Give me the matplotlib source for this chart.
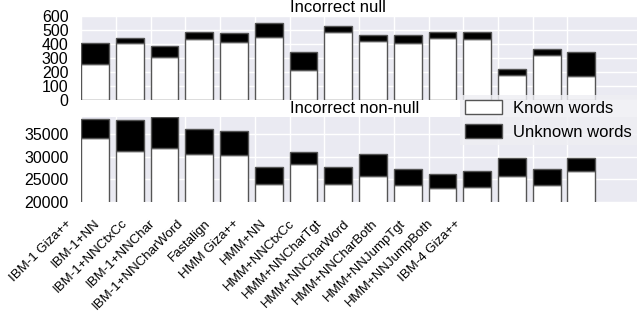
import matplotlib
matplotlib.use("Agg")
import matplotlib.pyplot as plt
import matplotlib.transforms as mtransforms
import numpy as np

plt.rcParams['font.family'] = ['Liberation Sans', 'DejaVu Sans']

models = ['IBM-1 Giza++', 'IBM-1+NN', 'IBM-1+NNCtxCc', 'IBM-1+NNChar',
          'IBM-1+NNCharWord', 'Fastalign', 'HMM Giza++', 'HMM+NN',
          'HMM+NNCtxCc', 'HMM+NNCharTgt', 'HMM+NNCharWord', 'HMM+NNCharBoth',
          'HMM+NNJumpTgt', 'HMM+NNJumpBoth', 'IBM-4 Giza++']

# incorrect null: known / total (known + unknown)
null_known = [255, 405, 310, 434, 417, 448, 214, 483, 424, 405, 440, 433, 181, 324, 171]
null_total = [405, 440, 386, 486, 476, 552, 345, 531, 467, 467, 486, 488, 219, 367, 340]

# incorrect non-null
nonnull_known = [34260, 31260, 31930, 30680, 30370, 23960, 28440, 23960,
                 25820, 23740, 23070, 23430, 25820, 23810, 26940]
nonnull_total = [38357, 38133, 38740, 36050, 35740, 27835, 31040, 27835,
                 30520, 27320, 26200, 26940, 29780, 27320, 29630]

null_unknown = np.array(null_total) - np.array(null_known)
nonnull_unknown = np.array(nonnull_total) - np.array(nonnull_known)

x = np.arange(len(models))
width = 0.8
edge = '#555555'
bg = '#EAEAF2'

fig = plt.figure(figsize=(6.4, 3.13), dpi=100)
ax1 = fig.add_axes([0.1266, 0.6805, 0.8687, 0.2684])
ax2 = fig.add_axes([0.1266, 0.3546, 0.8687, 0.2716])


def style(ax):
    ax.set_facecolor(bg)
    for s in ax.spines.values():
        s.set_visible(False)
    ax.set_axisbelow(True)
    ax.set_xticks([])
    ax.set_xticks(x - width / 2, minor=True)
    ax.set_xlim(-0.4, 15.6)
    ax.grid(True, which='minor', axis='x', color='white', lw=1)
    ax.grid(True, which='major', axis='y', color='white', lw=1)
    ax.tick_params(which='both', length=0)
    ax.tick_params(axis='x', which='minor', labelbottom=False)
    ax.tick_params(axis='y', labelsize=11.5, pad=9)


ax1.bar(x, null_known, width, color='white', edgecolor=edge, lw=1)
ax1.bar(x, null_unknown, width, bottom=null_known, color='black', edgecolor=edge, lw=1)
style(ax1)
ax1.set_ylim(0, 600)
ax1.set_yticks(range(0, 601, 100))
ax1.text(0.376, 1.01, 'Incorrect null', transform=ax1.transAxes,
         ha='left', va='bottom', fontsize=12)

b1 = ax2.bar(x, nonnull_known, width, color='white', edgecolor=edge, lw=1,
             label='Known words')
b2 = ax2.bar(x, nonnull_unknown, width, bottom=nonnull_known, color='black',
             edgecolor=edge, lw=1, label='Unknown words')
style(ax2)
ax2.set_ylim(20000, 38800)
ax2.set_yticks([20000, 25000, 30000, 35000])
ax2.text(0.376, 1.01, 'Incorrect non-null', transform=ax2.transAxes,
         ha='left', va='bottom', fontsize=12)

# model names sit on a tighter spacing than the bars in the original
label_pos = -0.84 + 0.80 * x
trans = mtransforms.offset_copy(ax2.get_xaxis_transform(), fig=fig,
                                y=-11, units='points')
for pos, name in zip(label_pos, models):
    ax2.text(pos, 0, name, transform=trans, rotation=45, ha='right',
             va='top', rotation_mode='anchor', fontsize=9.5, clip_on=False)

leg = fig.legend(handles=[b1, b2], loc='upper left',
                 bbox_to_anchor=(0.719, 0.697), fontsize=12,
                 frameon=True, fancybox=False, handlelength=2.2,
                 handleheight=0.9, handletextpad=0.7,
                 borderaxespad=0, borderpad=0.3)
leg.get_frame().set_facecolor('#EEEEF3')
leg.get_frame().set_edgecolor('none')

fig.savefig('out.png', dpi=100)
